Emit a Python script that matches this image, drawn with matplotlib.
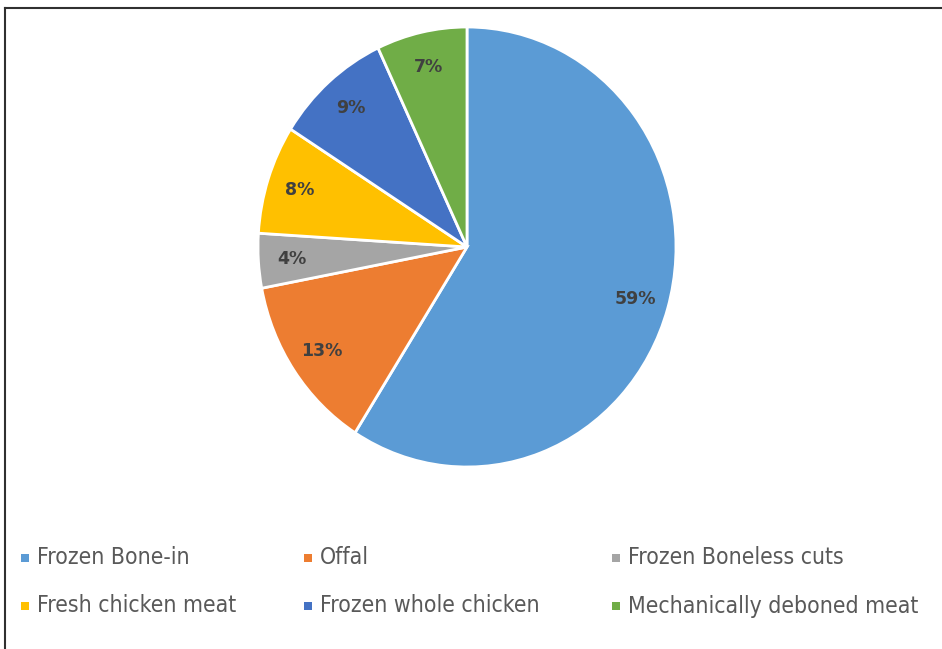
import matplotlib
matplotlib.use("Agg")
import matplotlib.pyplot as plt
from matplotlib.patches import Rectangle
from matplotlib.lines import Line2D

categories = ["Frozen Bone-in", "Offal", "Frozen Boneless cuts",
              "Fresh chicken meat", "Frozen whole chicken", "Mechanically deboned meat"]
values = [59, 13, 4, 8, 9, 7]
colors = ["#5B9BD5", "#ED7D31", "#A5A5A5", "#FFC000", "#4472C4", "#70AD47"]

W, H = 942, 649
fig = plt.figure(figsize=(W / 100, H / 100), dpi=100)
fig.patch.set_facecolor("white")

# frame lines (top and left)
fig.add_artist(Line2D([5 / W, 5 / W], [0, 1 - 8 / H], color="#303030", lw=1.5))
fig.add_artist(Line2D([5 / W, 1], [1 - 8 / H, 1 - 8 / H], color="#303030", lw=1.5))

cx, cy, rx, ry = 467, 247, 209, 220
ax = fig.add_axes([(cx - rx) / W, (H - cy - ry) / H, 2 * rx / W, 2 * ry / H])
wedges, texts, autotexts = ax.pie(
    values, colors=colors, startangle=90, counterclock=False,
    autopct=lambda p: f"{p:.0f}%", pctdistance=0.84,
    wedgeprops=dict(edgecolor="white", linewidth=2),
    textprops=dict(fontsize=12.5, fontweight="bold", color="#404040"))
ax.set_aspect("auto")
ax.set_xlim(-1, 1)
ax.set_ylim(-1, 1)
ax.axis("off")

# legend
col_x = [25, 308, 616]
row_y = [558, 606]
for i, (lab, c) in enumerate(zip(categories, colors)):
    x = col_x[i % 3]
    y = row_y[i // 3]
    fig.add_artist(Rectangle(((x - 4) / W, (H - y - 4) / H), 8 / W, 8 / H,
                             transform=fig.transFigure, facecolor=c, edgecolor="none"))
    fig.text((x + 12) / W, (H - y) / H, lab, fontsize=16.5, color="#595959",
             va="center", ha="left", family="DejaVu Sans", fontstretch="condensed")

fig.savefig("out.png", dpi=100)
